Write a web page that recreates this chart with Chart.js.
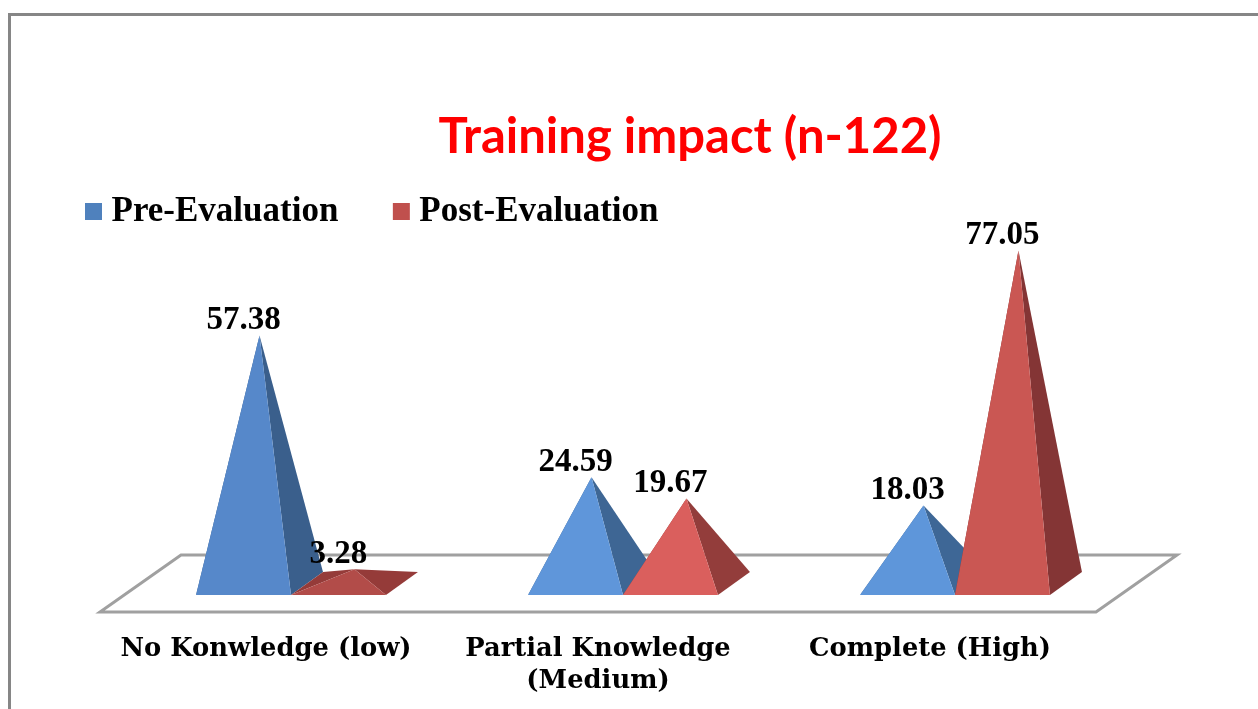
<!DOCTYPE html>
<html>
<head>
<meta charset="utf-8">
<title>Training impact</title>
<script src="https://cdn.jsdelivr.net/npm/chart.js@4"></script>
<style>
  html, body { margin: 0; padding: 0; background: #fff; overflow: hidden; }
  #wrap { position: relative; width: 1258px; height: 709px; overflow: hidden; }
  #frame { position: absolute; left: 8px; top: 13px; width: 1400px; height: 900px; border: 3px solid #868686; }
  canvas { position: absolute; left: 0; top: 0; }
</style>
</head>
<body>
<div id="wrap">
  <div id="frame"></div>
  <canvas id="chart" width="1258" height="709"></canvas>
</div>
<script>
'use strict';

// ── Data ──────────────────────────────────────
const categories = ['No Konwledge (low)', ['Partial Knowledge', '(Medium)'], 'Complete (High)'];
const preValues  = [57.38, 24.59, 18.03];
const postValues = [3.28, 19.67, 77.05];

// ── Face colours, one per category ────────────
const PRE_FRONT  = ['#5688ca', '#5f96da', '#5e96da'];
const PRE_SIDE   = ['#3a5f8c', '#3e6694', '#3e6796'];
const POST_FRONT = ['#b24c49', '#da5f5d', '#ca5753'];
const POST_SIDE  = ['#953b39', '#933d3b', '#843535'];

const FLOOR = { dx: 81, dy: 57 };
const BASE  = { frontX: 25, frontY: 17, backX: 57, backY: 40 };

function fillPoly(ctx, pts, color) {
  ctx.beginPath();
  pts.forEach((p, i) => i ? ctx.lineTo(p[0], p[1]) : ctx.moveTo(p[0], p[1]));
  ctx.closePath();
  ctx.fillStyle = color;
  ctx.fill();
}

// ── Pyramid drawn from a bar element's position ──
function drawPyramid(ctx, bar, front, side) {
  const hw = bar.width / 2;
  const fl = [bar.x - hw + BASE.frontX, bar.base - BASE.frontY];
  const fr = [bar.x + hw + BASE.frontX, bar.base - BASE.frontY];
  const bl = [bar.x - hw + BASE.backX,  bar.base - BASE.backY];
  const br = [bar.x + hw + BASE.backX,  bar.base - BASE.backY];
  const apex = [bar.x + (BASE.frontX + BASE.backX) / 2, bar.y - (BASE.frontY + BASE.backY) / 2];
  fillPoly(ctx, [fl, bl, apex], side);
  fillPoly(ctx, [fr, br, apex], side);
  fillPoly(ctx, [fl, fr, apex], front);
  return apex;
}

const pyramidPlugin = {
  id: 'pyramids',
  beforeDatasetsDraw(chart) {
    const { ctx, chartArea: a } = chart;
    ctx.save();

    // floor
    const floor = [[a.left, a.bottom], [a.right, a.bottom],
      [a.right + FLOOR.dx, a.bottom - FLOOR.dy], [a.left + FLOOR.dx, a.bottom - FLOOR.dy]];
    fillPoly(ctx, floor, '#ffffff');
    ctx.strokeStyle = '#a0a0a0';
    ctx.lineWidth = 3;
    ctx.stroke();

    // back to front, blue then red in each category
    const pre  = chart.getDatasetMeta(0).data;
    const post = chart.getDatasetMeta(1).data;
    const labels = [];
    categories.forEach((c, i) => {
      const a1 = drawPyramid(ctx, pre[i], PRE_FRONT[i], PRE_SIDE[i]);
      const a2 = drawPyramid(ctx, post[i], POST_FRONT[i], POST_SIDE[i]);
      labels.push([preValues[i], pre[i].x + BASE.frontX, a1[1]]);
      labels.push([postValues[i], post[i].x + BASE.frontX, a2[1]]);
    });

    // value labels
    ctx.fillStyle = '#000';
    ctx.font = 'bold 33px "Liberation Serif"';
    ctx.textAlign = 'center';
    ctx.textBaseline = 'middle';
    labels.forEach(l => ctx.fillText(l[0].toFixed(2), l[1], l[2] - 15));

    ctx.restore();
    return false;
  },
  afterLayout(chart) {
    // title and legend sit off-centre in the original
    const t = chart.titleBlock;
    t.left = 390;
    t.right = 990;
    const l = chart.legend;
    l.left = 30.5;
    l.right = 1200;
    l.top = 131.5;
  }
};

new Chart(document.getElementById('chart'), {
  type: 'bar',
  data: {
    labels: categories,
    datasets: [
      { label: 'Pre-Evaluation',  data: preValues,  backgroundColor: '#4f81bd' },
      { label: 'Post-Evaluation', data: postValues, backgroundColor: '#c0504d' }
    ]
  },
  options: {
    responsive: false,
    animation: false,
    layout: { padding: { left: 100, right: 162, top: 0, bottom: 0 } },
    datasets: { bar: { categoryPercentage: 0.572, barPercentage: 1 } },
    plugins: {
      tooltip: { enabled: false },
      title: {
        display: true,
        text: 'Training impact (n-122)',
        color: '#ff0000',
        font: { family: 'Lato', weight: 'bold', size: 49 },
        padding: { top: 108, bottom: 0 }
      },
      legend: {
        position: 'top',
        align: 'start',
        labels: {
          boxWidth: 1,
          boxHeight: 1,
          padding: 62.5,
          color: '#000',
          font: { family: 'Liberation Serif', weight: 'bold', size: 35 },
          generateLabels: chart => chart.data.datasets.map((d, i) => ({
            text: d.label,
            fillStyle: d.backgroundColor,
            strokeStyle: d.backgroundColor,
            lineWidth: 16,
            datasetIndex: i
          }))
        }
      }
    },
    scales: {
      x: {
        grid: { display: false, drawTicks: false },
        border: { display: false },
        afterFit: s => { s.height = 97; },
        ticks: {
          autoSkip: false,
          maxRotation: 0,
          padding: 21,
          color: '#000',
          font: { family: 'DejaVu Serif', weight: 'bold', size: 25.8, lineHeight: 1.24 }
        }
      },
      y: { display: false, min: 0, max: 78.15 }
    }
  },
  plugins: [pyramidPlugin]
});
</script>
</body>
</html>
